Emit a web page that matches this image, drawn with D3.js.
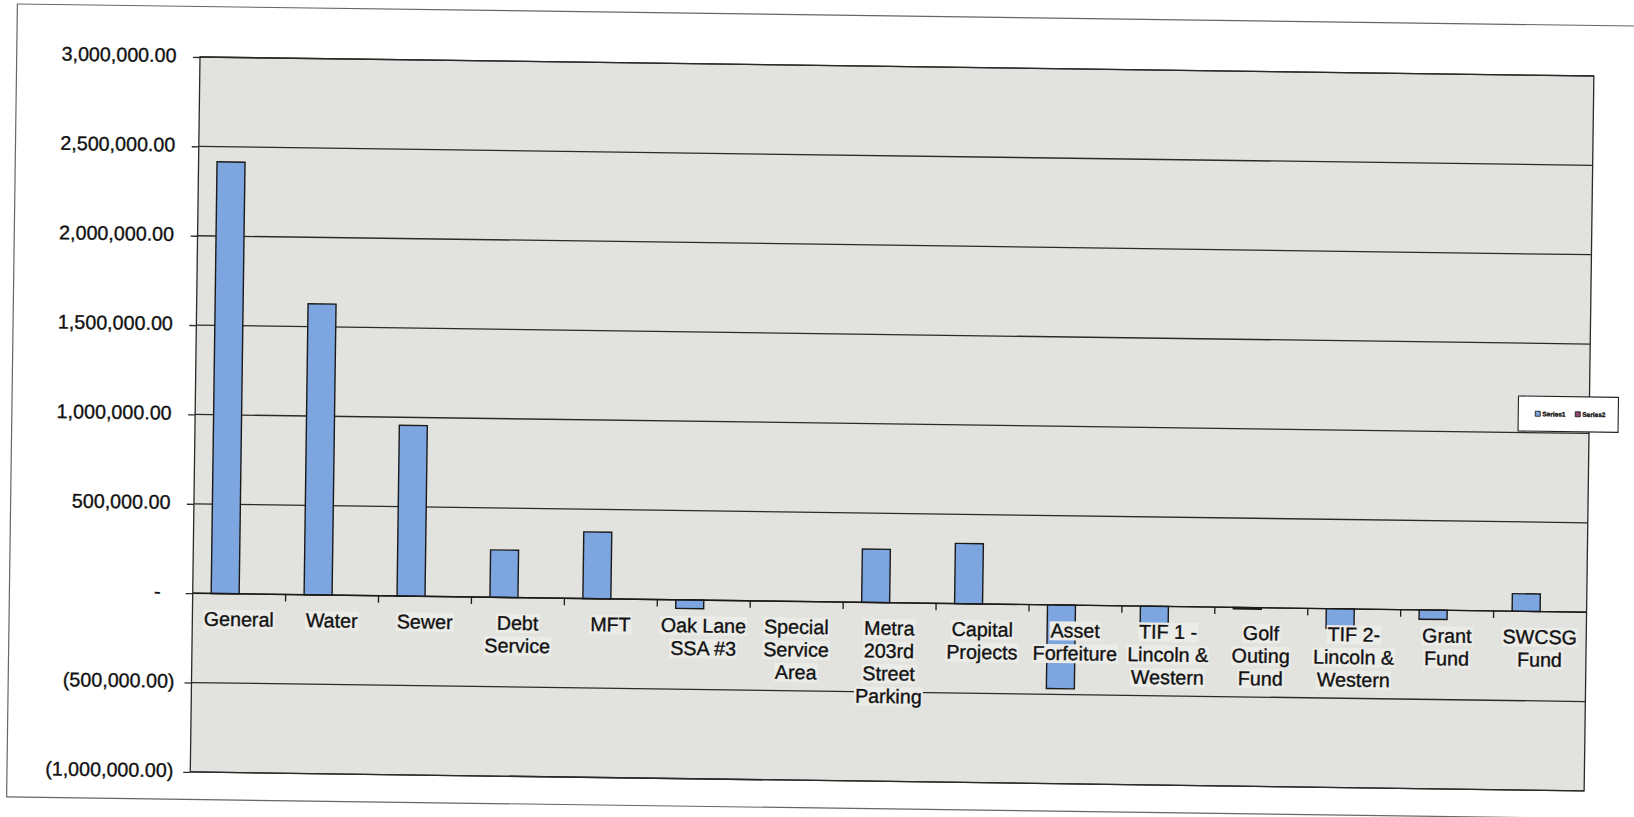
<!DOCTYPE html>
<html>
<head>
<meta charset="utf-8">
<script src="https://cdn.jsdelivr.net/npm/d3@7"></script>
<style>
  html, body { margin: 0; padding: 0; background: #ffffff; }
  svg { display: block; }
  text { font-family: "Liberation Sans", Arial, sans-serif; fill: #111; stroke: #111; stroke-width: 0.35px; }
</style>
</head>
<body>
<svg id="chart" width="1634" height="817"></svg>
<script>
// ---- data ----
const categories = ["General", "Water", "Sewer", "Debt Service", "MFT", "Oak Lane SSA #3",
  "Special Service Area", "Metra 203rd Street Parking", "Capital Projects", "Asset Forfeiture",
  "TIF 1 - Lincoln & Western", "Golf Outing Fund", "TIF 2- Lincoln & Western", "Grant Fund", "SWCSG Fund"];
const categoryLines = [["General"], ["Water"], ["Sewer"], ["Debt", "Service"], ["MFT"],
  ["Oak Lane", "SSA #3"], ["Special", "Service", "Area"], ["Metra", "203rd", "Street", "Parking"],
  ["Capital", "Projects"], ["Asset", "Forfeiture"], ["TIF 1 -", "Lincoln &", "Western"],
  ["Golf", "Outing", "Fund"], ["TIF 2-", "Lincoln &", "Western"], ["Grant", "Fund"], ["SWCSG", "Fund"]];
const seriesNames = ["Series1", "Series2"];
const series1 = [2415000, 1628000, 955000, 265000, 373000, -48000, 0, 298000, 337000, -468000,
  -106000, -8000, -110000, -52000, 98000];
const series2 = [0, 0, 0, 0, 0, 0, 0, 0, 0, 0, 0, 0, 0, 0, 0];
const yTicks = [3000000, 2500000, 2000000, 1500000, 1000000, 500000, 0, -500000, -1000000];

// ---- layout ----
const plot = { left: 200, top: 57, width: 1394, height: 715 };
const seriesColors = ["#7da5e0", "#8a4a6a"];
const fontSize = 19.7;

const svg = d3.select("#chart");
const root = svg.append("g").attr("transform", `rotate(0.78, ${plot.left}, ${plot.top})`);

// outer chart border
root.append("rect")
  .attr("x", 16.7).attr("y", 6.5).attr("width", 1700).attr("height", 793)
  .attr("fill", "none").attr("stroke", "#666").attr("stroke-width", 1.2);

const x0 = d3.scaleBand().domain(categories).range([plot.left, plot.left + plot.width]).padding(0);
const cw = x0.bandwidth();
const x1 = d3.scaleBand().domain(seriesNames).range([0, cw]).paddingInner(0).paddingOuter(0.66);
const y = d3.scaleLinear().domain([-1000000, 3000000]).range([plot.top + plot.height, plot.top]);

// plot area background
root.append("rect")
  .attr("x", plot.left).attr("y", plot.top).attr("width", plot.width).attr("height", plot.height)
  .attr("fill", "#e2e2de");

// gridlines
root.append("g").selectAll("line").data(yTicks).join("line")
  .attr("x1", plot.left).attr("x2", plot.left + plot.width)
  .attr("y1", d => y(d)).attr("y2", d => y(d))
  .attr("stroke", "#2a2a2a").attr("stroke-width", 1.3);

// y axis ticks
const yAxis = d3.axisLeft(y).tickValues(yTicks).tickSize(7).tickFormat("");
const yg = root.append("g").attr("transform", `translate(${plot.left},0)`).call(yAxis);
yg.select(".domain").remove();
yg.selectAll(".tick line").attr("stroke", "#2a2a2a").attr("stroke-width", 1.3);

// y labels (accounting style)
const fmt = d3.format(",.2f");
root.append("g").selectAll("text").data(yTicks).join("text")
  .attr("x", d => d > 0 ? plot.left - 23.5 : (d < 0 ? plot.left - 17 : plot.left - 32))
  .attr("y", d => y(d) - 1.5)
  .attr("dy", "0.35em")
  .attr("text-anchor", "end")
  .style("font-size", fontSize + "px")
  .text(d => d === 0 ? "-" : (d < 0 ? "(" + fmt(-d) + ")" : fmt(d)));

// category labels with light background
const lineH = 22.7;
const baseY = y(0) + 32.3;
const labG = root.append("g");
categoryLines.forEach((lines, i) => {
  const cx = x0(categories[i]) + cw / 2;
  lines.forEach((ln, j) => {
    const t = labG.append("text")
      .attr("x", cx).attr("y", baseY + j * lineH)
      .attr("text-anchor", "middle")
      .style("font-size", fontSize + "px")
      .text(ln);
    const bb = t.node().getBBox();
    labG.insert("rect", "text")
      .attr("x", bb.x - 1).attr("y", bb.y + 2).attr("width", bb.width + 2).attr("height", bb.height - 3)
      .attr("fill", "#ebebe8");
  });
});

// bars
const allSeries = [series1, series2];
const barG = root.append("g");
allSeries.forEach((vals, s) => {
  barG.selectAll(null).data(vals.map((v, i) => ({ v, c: categories[i] }))).join("rect")
    .filter(d => d.v !== 0)
    .attr("x", d => x0(d.c) + x1(seriesNames[s]))
    .attr("width", x1.bandwidth())
    .attr("y", d => y(Math.max(0, d.v)))
    .attr("height", d => Math.abs(y(d.v) - y(0)))
    .attr("fill", seriesColors[s])
    .attr("stroke", "#1a1a1a").attr("stroke-width", 1.4);
});
labG.raise();

// category axis line and ticks at zero
root.append("line")
  .attr("x1", plot.left).attr("x2", plot.left + plot.width)
  .attr("y1", y(0)).attr("y2", y(0))
  .attr("stroke", "#1a1a1a").attr("stroke-width", 1.4);
const bounds = categories.slice(1).map(c => x0(c));
root.append("g").selectAll("line").data(bounds).join("line")
  .attr("x1", d => d).attr("x2", d => d)
  .attr("y1", y(0)).attr("y2", y(0) + 7)
  .attr("stroke", "#1a1a1a").attr("stroke-width", 1.3);

// plot border
root.append("rect")
  .attr("x", plot.left).attr("y", plot.top).attr("width", plot.width).attr("height", plot.height)
  .attr("fill", "none").attr("stroke", "#2a2a2a").attr("stroke-width", 1.3);

// legend
const lg = root.append("g").attr("transform", "translate(1523,378)");
lg.append("rect").attr("width", 100).attr("height", 35)
  .attr("fill", "#ffffff").attr("stroke", "#222").attr("stroke-width", 1.1);
seriesNames.forEach((n, i) => {
  const gx = 17 + i * 40;
  lg.append("rect").attr("x", gx).attr("y", 15).attr("width", 5).attr("height", 5)
    .attr("fill", seriesColors[i]).attr("stroke", "#111").attr("stroke-width", 0.8);
  lg.append("text").attr("x", gx + 7).attr("y", 20)
    .style("font-size", "6.5px").style("font-weight", "bold").text(n);
});
</script>
</body>
</html>
